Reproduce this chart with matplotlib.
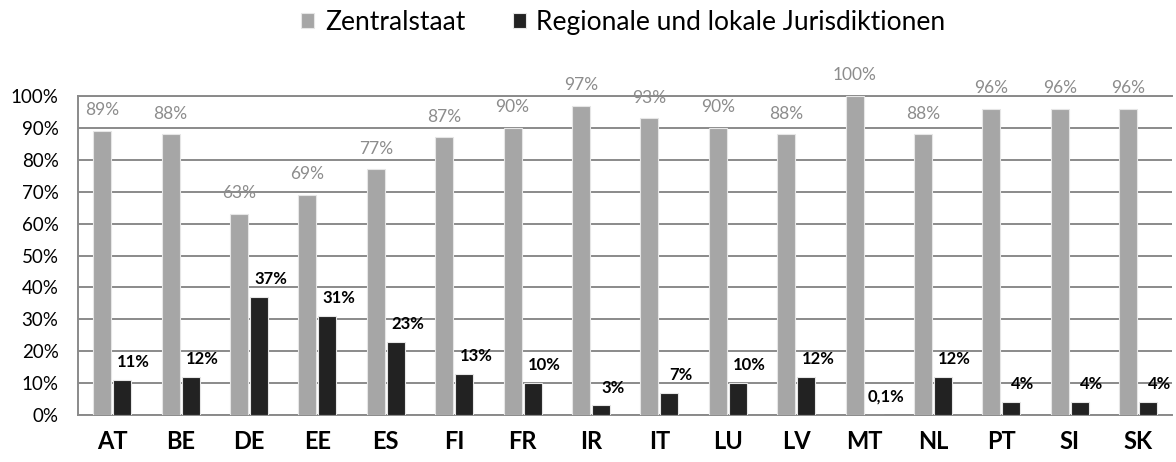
import numpy as np
import matplotlib
matplotlib.use("Agg")
import matplotlib.pyplot as plt

plt.rcParams['font.family'] = ['Lato', 'DejaVu Sans']

# data
laender = ['AT', 'BE', 'DE', 'EE', 'ES', 'FI', 'FR', 'IR', 'IT', 'LU', 'LV', 'MT', 'NL', 'PT', 'SI', 'SK']
zentral = [89, 88, 63, 69, 77, 87, 90, 97, 93, 90, 88, 100, 88, 96, 96, 96]
regional = [11, 12, 37, 31, 23, 13, 10, 3, 7, 10, 12, 0.1, 12, 4, 4, 4]

grau = '#a6a6a6'
schwarz = '#222222'

fig = plt.figure(figsize=(11.76, 4.62), dpi=100)
ax = fig.add_axes([0.0663, 0.1017, 0.9307, 0.6905])

x = np.arange(len(laender))
breite = 0.264
versatz = 0.146

ax.bar(x - versatz, zentral, breite, color=grau, edgecolor='#e6e6e6', linewidth=0.8,
       label='Zentralstaat', zorder=3)
ax.bar(x + versatz, regional, breite, color=schwarz, edgecolor='#e6e6e6', linewidth=0.8,
       label='Regionale und lokale Jurisdiktionen', zorder=3)

def fmt(v):
    if v < 1:
        return f'{v:.1f}%'.replace('.', ',')
    return f'{v:.0f}%'

for xi, v in zip(x, zentral):
    ax.text(xi - versatz, v + 6.5, fmt(v), ha='center', va='center',
            fontsize=12.5, color='#8c8c8c', zorder=4)
for xi, v in zip(x, regional):
    ax.text(xi + versatz + 0.17, v + 5.6, fmt(v), ha='center', va='center',
            fontsize=12, fontweight='bold', color='black', zorder=4)

ax.set_xlim(-0.5, len(laender) - 0.5)
ax.set_ylim(0, 100)
ax.set_yticks(np.arange(0, 101, 10))
ax.set_yticklabels([f'{t}%' for t in range(0, 101, 10)], fontsize=13.5)
ax.set_xticks(x)
ax.set_xticklabels(laender, fontsize=17, fontweight='bold')
ax.tick_params(axis='y', length=0, pad=14)
ax.tick_params(axis='x', length=0, pad=11)

ax.grid(axis='y', color='#8a8a8a', linewidth=1.4, zorder=0)
for s in ax.spines.values():
    s.set_color('#8a8a8a')
    s.set_linewidth(1.4)
ax.spines['right'].set_visible(False)

fig.legend(loc='center', bbox_to_anchor=(0.53, 0.952), ncol=2, frameon=False,
           fontsize=19, handlelength=0.5, handleheight=0.5, handletextpad=0.4,
           columnspacing=1.8)

fig.savefig('out.png', dpi=100)
